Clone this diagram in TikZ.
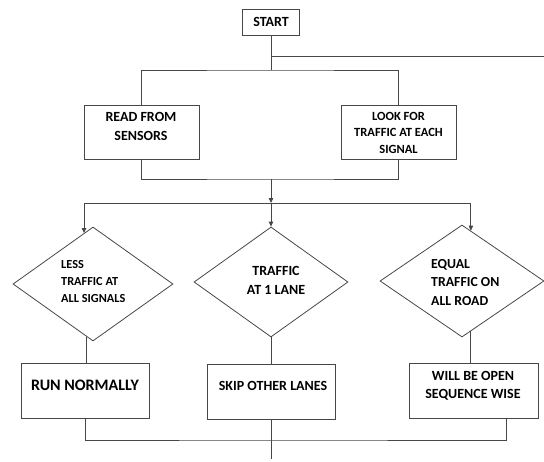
\documentclass[tikz,border=0pt]{standalone}
\usepackage{fontspec}
\setmainfont{Carlito}
\usetikzlibrary{shapes.geometric,arrows.meta,calc}
\begin{document}
\begin{tikzpicture}[x=1pt,y=-1pt,
  line/.style={draw=black!72,line width=0.8pt},
  arr/.style={line,-{Triangle[length=5pt,width=4.5pt]}},
  box/.style={line,rectangle,inner sep=0pt},
  dia/.style={line,diamond,inner sep=0pt},
  txt/.style={font=\bfseries,align=center,inner sep=0pt},
  ltxt/.style={font=\bfseries,align=left,inner sep=0pt,anchor=west}
]
\useasboundingbox (0,0) rectangle (544,461);

% boxes
\node[box,minimum width=57pt,minimum height=26pt,font=\bfseries\fontsize{14}{17}\selectfont] (start) at (271,22) {START};
\node[box,minimum width=115pt,minimum height=54pt] (read) at (141.5,132) {};
\node[box,minimum width=115pt,minimum height=54pt] (look) at (398.5,132) {};
\node[dia,minimum width=160pt,minimum height=114pt] (d1) at (93,284) {};
\node[dia,minimum width=154pt,minimum height=110pt] (d2) at (271,282) {};
\node[dia,minimum width=164pt,minimum height=112pt] (d3) at (462,281) {};
\node[box,minimum width=128pt,minimum height=55pt] (run) at (85,390.5) {};
\node[box,minimum width=128pt,minimum height=55pt] (skip) at (271,391.5) {};
\node[box,minimum width=129pt,minimum height=55pt] (will) at (473.5,390.5) {};

% texts
\node[txt,font=\bfseries\fontsize{14}{19}\selectfont] (tread) at (141,126.5) {READ FROM\\SENSORS};
\node[txt,font=\bfseries\fontsize{12.5}{16.5}\selectfont] (tlook) at (398.5,132.5) {LOOK FOR\\TRAFFIC AT EACH\\SIGNAL};
\node[ltxt,font=\bfseries\fontsize{12.3}{17}\selectfont] (td1) at (61,281.5) {LESS\\TRAFFIC AT\\ALL SIGNALS};
\node[txt,font=\bfseries\fontsize{14}{19}\selectfont] (td2) at (276,280.5) {TRAFFIC\\AT 1 LANE};
\node[ltxt,font=\bfseries\fontsize{13.8}{18.5}\selectfont] (td3) at (431,282.5) {EQUAL\\TRAFFIC ON\\ALL ROAD};
\node[txt,font=\bfseries\fontsize{16}{19}\selectfont] (trun) at (85,385) {RUN NORMALLY};
\node[txt,font=\bfseries\fontsize{14}{19}\selectfont] (tskip) at (273,386) {SKIP OTHER LANES};
\node[txt,font=\bfseries\fontsize{14}{18}\selectfont] (twill) at (473,386) {WILL BE OPEN\\SEQUENCE WISE};

% junctions
\coordinate (j0) at (271,56);
\coordinate (jr) at (544,56);
\coordinate (j1) at (271,70);
\coordinate (j2) at (271,179);
\coordinate (j3) at (271,203);
\coordinate (j4) at (271,440);
\coordinate (jend) at (271,459);

% connectors
\draw[line] (start) -- (j1);
\draw[line] (j0) -- (jr);
\draw[line] (read.north) |- (j1) -| (look.north);
\draw[line] (read.south) |- (j2) -| (look.south);
\draw[arr] (j2) -- (j3);
\draw[arr] (j3) -| (d1.100);
\draw[arr] (j3) -- (d2.north);
\draw[arr] (j3) -| (d3.80);
\draw[line] (d1.263) -- (d1.263 |- run.north);
\draw[line] (d2.south) -- (skip.north);
\draw[line] (d3.280) -- (d3.280 |- will.north);
\draw[line] (run.south) |- (j4) -| (will.-40);
\draw[line] (skip.south) -- (jend);
\end{tikzpicture}
\end{document}
